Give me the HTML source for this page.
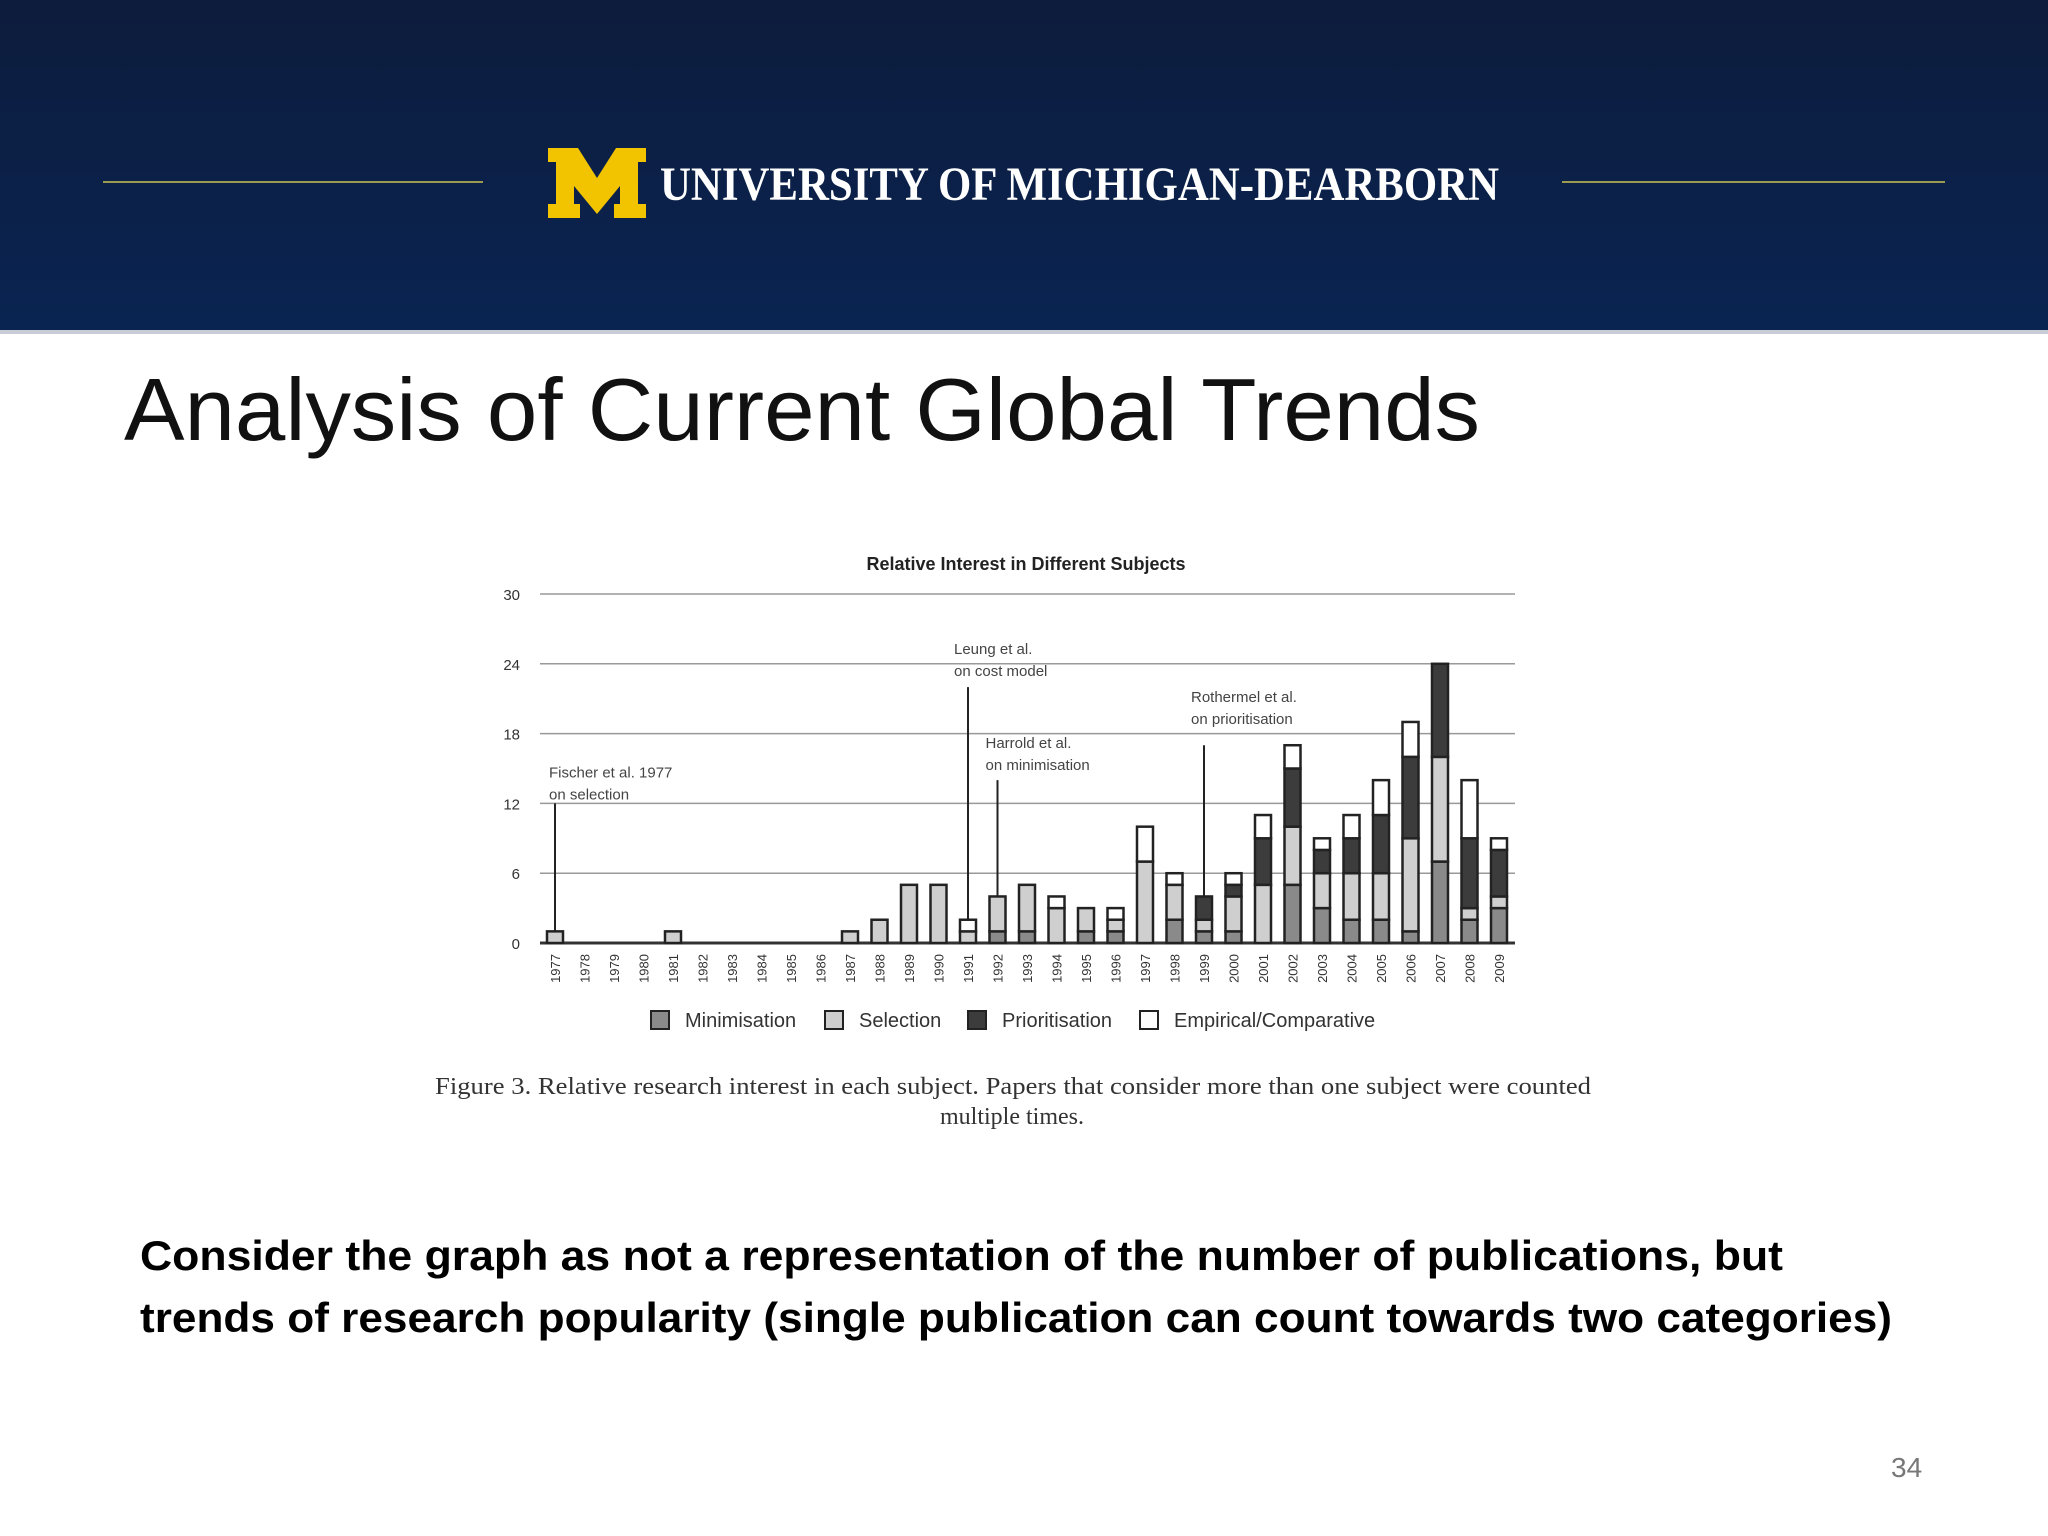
<!DOCTYPE html>
<html><head><meta charset="utf-8"><style>html,body{margin:0;padding:0;background:#fff}svg{display:block}</style></head>
<body>
<svg id="s" xmlns="http://www.w3.org/2000/svg" width="2048" height="1536" viewBox="0 0 2048 1536">
<defs><linearGradient id="hg" x1="0" y1="0" x2="0" y2="1"><stop offset="0" stop-color="#0d1c3c"/><stop offset="1" stop-color="#0a2452"/></linearGradient></defs>
<rect x="0" y="0" width="2048" height="332" fill="url(#hg)"/>
<rect x="0" y="330" width="2048" height="4" fill="#c8ccd4"/>
<line x1="103" y1="182" x2="483" y2="182" stroke="#9a9a50" stroke-width="2"/>
<line x1="1562" y1="182" x2="1945" y2="182" stroke="#9a9a50" stroke-width="2"/>
<polygon fill="#f2c400" points="548,148 578,148 597,178 616,148 646,148 646,162 638,162 638,204 646,204 646,218 614,218 614,204 620,204 620,186 597,214 574,186 574,204 580,204 580,218 548,218 548,204 556,204 556,162 548,162"/>
<text x="660" y="200" font-family="Liberation Serif, serif" font-weight="bold" font-size="48" fill="#fff" textLength="839" lengthAdjust="spacingAndGlyphs">UNIVERSITY OF MICHIGAN-DEARBORN</text>
<text x="124" y="440" font-family="Liberation Sans, sans-serif" font-size="88" fill="#111" textLength="1356" lengthAdjust="spacingAndGlyphs">Analysis of Current Global Trends</text>
<g id="chart"></g>
<text x="435" y="1094" font-family="Liberation Serif, serif" font-size="24" fill="#333" textLength="1156" lengthAdjust="spacingAndGlyphs">Figure 3. Relative research interest in each subject. Papers that consider more than one subject were counted</text>
<text x="1012" y="1124" text-anchor="middle" font-family="Liberation Serif, serif" font-size="24" fill="#333">multiple times.</text>
<text x="140" y="1270" font-family="Liberation Sans, sans-serif" font-weight="bold" font-size="42" fill="#000" textLength="1643" lengthAdjust="spacingAndGlyphs">Consider the graph as not a representation of the number of publications, but</text>
<text x="140" y="1332" font-family="Liberation Sans, sans-serif" font-weight="bold" font-size="42" fill="#000" textLength="1752" lengthAdjust="spacingAndGlyphs">trends of research popularity (single publication can count towards two categories)</text>
<text x="1891" y="1477" font-family="Liberation Sans, sans-serif" font-size="28" fill="#777">34</text>
</svg>
<script>
const years=[1977,1978,1979,1980,1981,1982,1983,1984,1985,1986,1987,1988,1989,1990,1991,1992,1993,1994,1995,1996,1997,1998,1999,2000,2001,2002,2003,2004,2005,2006,2007,2008,2009];
const minimisation=[0,0,0,0,0,0,0,0,0,0,0,0,0,0,0,1,1,0,1,1,0,2,1,1,0,5,3,2,2,1,7,2,3];
const selection=[1,0,0,0,1,0,0,0,0,0,1,2,5,5,1,3,4,3,2,1,7,3,1,3,5,5,3,4,4,8,9,1,1];
const prioritisation=[0,0,0,0,0,0,0,0,0,0,0,0,0,0,0,0,0,0,0,0,0,0,2,1,4,5,2,3,5,7,8,6,4];
const empirical=[0,0,0,0,0,0,0,0,0,0,0,0,0,0,1,0,0,1,0,1,3,1,0,1,2,2,1,2,3,3,0,5,1];
const yTicks=[0,6,12,18,24,30];
const annotations=[{year:1977,l1:"Fischer et al. 1977",l2:"on selection",top:12,dy:4},{year:1991,l1:"Leung et al.",l2:"on cost model",top:22,dy:-3},{year:1992,l1:"Harrold et al.",l2:"on minimisation",top:14,dy:-2},{year:1999,l1:"Rothermel et al.",l2:"on prioritisation",top:17,dy:-13}];
const NS="http://www.w3.org/2000/svg";
const g=document.getElementById('chart');
const y=v=>943-v*(349/30);
const x=i=>555+i*29.5;
function mk(t,a,p){const e=document.createElementNS(NS,t);for(const k in a)e.setAttribute(k,a[k]);(p||g).appendChild(e);return e;}
const title=mk('text',{x:1026,y:570,'text-anchor':'middle','font-family':'Liberation Sans, sans-serif','font-weight':'bold','font-size':18,fill:'#222'});


title.textContent='Relative Interest in Different Subjects';
yTicks.forEach(t=>{
 const l=mk('line',{x1:540,x2:1515,y1:y(t),y2:y(t),stroke:t===0?'#333':'#999','stroke-width':t===0?3:1.5});
 
 
 const tx=mk('text',{x:520,y:y(t)+6,'text-anchor':'end','font-family':'Liberation Sans, sans-serif','font-size':15,fill:'#333'});
 
 
 tx.textContent=t;
});
const series=[[minimisation,'#8a8a8a','minimisation'],[selection,'#cfcfcf','selection'],[prioritisation,'#3c3c3c','prioritisation'],[empirical,'#ffffff','empirical']];
years.forEach((yr,i)=>{
 let base=0;
 series.forEach(([arr,col,nm])=>{
  const v=arr[i]; if(!v)return;
  const r=mk('rect',{x:x(i)-8,y:y(base+v),width:16,height:y(base)-y(base+v),fill:col,stroke:'#222','stroke-width':2.5});
  
  
  base+=v;
 });
 const t=mk('text',{x:0,y:0,transform:`translate(${x(i)+5},954) rotate(-90)`,'text-anchor':'end','font-family':'Liberation Sans, sans-serif','font-size':13,fill:'#333'});
 
 
 t.textContent=yr;
});
annotations.forEach(a=>{
 const i=years.indexOf(a.year);
 let tot=minimisation[i]+selection[i]+prioritisation[i]+empirical[i];
 const l=mk('line',{x1:x(i),x2:x(i),y1:y(a.top),y2:y(tot),stroke:'#222','stroke-width':2});
 
 
 const tx=x(i)-(a.year===1977?6:a.year===1991?14:a.year===1992?12:13);
 [a.l1,a.l2].forEach((s,k)=>{
  const t=mk('text',{x:tx,y:y(a.top)-30+a.dy+k*22,'font-family':'Liberation Sans, sans-serif','font-size':15,fill:'#444'});
  
  
  t.textContent=s;
 });
});
const legend=[['Minimisation','#8a8a8a',651],['Selection','#cfcfcf',825],['Prioritisation','#3c3c3c',968],['Empirical/Comparative','#ffffff',1140]];
legend.forEach(([n,c,lx])=>{
 const r=mk('rect',{x:lx,y:1011,width:18,height:18,fill:c,stroke:'#222','stroke-width':2});
 
 
 const t=mk('text',{x:lx+34,y:1027,'font-family':'Liberation Sans, sans-serif','font-size':20,fill:'#333'});
 
 
 t.textContent=n;
});
</script>
</body></html>
